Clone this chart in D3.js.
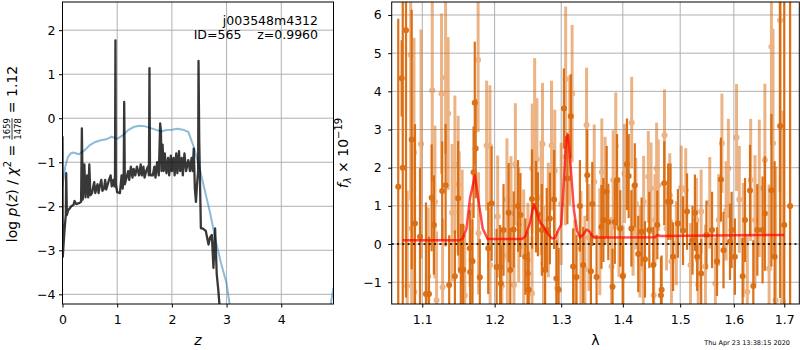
<!DOCTYPE html>
<html>
<head>
<meta charset="utf-8">
<script src="https://cdn.jsdelivr.net/npm/d3@7"></script>
<style>
	body { margin: 0; background: #fff; }
	svg { font-family: "DejaVu Sans", sans-serif; }
</style>
</head>
<body>
<svg id="chart" width="800" height="350"></svg>
<script>
// ---- left panel: log p(z) ----
const pzZ = [0.00, 0.005, 0.02, 0.04, 0.06, 0.068, 0.08, 0.10, 0.13, 0.16, 0.20, 0.22, 0.25, 0.30, 0.34, 0.354, 0.37,
	0.40, 0.42, 0.45, 0.47, 0.49, 0.51, 0.54, 0.58, 0.60, 0.64, 0.66, 0.68, 0.71, 0.73, 0.76, 0.78, 0.80, 0.85, 0.88,
	0.90, 0.93, 0.95, 0.96, 0.968, 0.975, 1.00, 1.05, 1.08, 1.10, 1.12, 1.128, 1.14, 1.17, 1.20, 1.22, 1.25, 1.28,
	1.30, 1.33, 1.36, 1.40, 1.43, 1.45, 1.48, 1.50, 1.53, 1.56, 1.58, 1.59, 1.60, 1.62, 1.65, 1.68, 1.70, 1.73, 1.76,
	1.786, 1.80, 1.81, 1.83, 1.85, 1.87, 1.90, 1.93, 1.95, 1.98, 2.00, 2.03, 2.05, 2.08, 2.10, 2.13, 2.15, 2.18, 2.20,
	2.23, 2.26, 2.30, 2.33, 2.36, 2.38, 2.40, 2.42, 2.44, 2.46, 2.48, 2.487, 2.50, 2.53, 2.56, 2.62, 2.67, 2.70, 2.73,
	2.76, 2.79, 2.82, 2.85, 2.88];
const pzLog = [-0.41, -3.15, -2.85, -2.5, -2.2, -1.25, -2.2, -2.1, -2.05, -2.0, -1.97, -1.88, -1.95, -1.93, -1.9, -0.23, -1.85,
	-1.05, -1.8, -1.3, -1.8, -1.05, -1.75, -1.7, -1.45, -1.7, -1.5, -1.7, -1.55, -1.4, -1.65, -1.6, -1.4, -1.62, -1.4, -1.3,
	-1.55, -1.4, -1.55, -1.3, 1.77, -1.5, -1.68, -1.7, -1.3, -1.6, -1.2, 0.37, -1.5, -1.35, -1.2, -1.4, -1.1, -1.35,
	-1.15, -1.3, -1.1, -1.3, -1.05, -1.3, -1.1, -1.35, -1.2, -1.1, -1.3, 1.14, -1.25, -1.3, -1.3, -1.1, -1.35, -1.0, -1.3,
	-0.12, -0.3, -1.2, -0.6, -1.2, -0.8, -1.25, -0.9, -1.3, -0.85, -1.2, -0.9, -1.3, -0.8, -1.25, -0.75, -1.2, -0.9, -1.3,
	-0.8, -1.2, -0.95, -1.2, -0.9, -1.2, -0.69, -1.6, -1.9, -1.5, -1.2, 1.3, -0.5, -2.5, -2.5, -2.56, -2.87, -2.7, -2.65,
	-3.4, -2.5, -3.54, -3.92, -4.4];
const priorZ = [0.00, 0.05, 0.10, 0.15, 0.20, 0.30, 0.40, 0.50, 0.60, 0.70, 0.80, 0.90, 1.00, 1.10, 1.20, 1.30, 1.40,
	1.50, 1.60, 1.70, 1.80, 1.90, 2.00, 2.10, 2.20, 2.30, 2.40, 2.50, 2.60, 2.70, 2.80, 2.90, 3.00, 3.10, 3.30, 4.85,
	4.90, 4.955];
const priorLog = [-1.56, -1.1, -0.88, -0.8, -0.78, -0.82, -0.73, -0.61, -0.54, -0.5, -0.48, -0.42, -0.47, -0.39, -0.27, -0.2, -0.17,
	-0.18, -0.22, -0.26, -0.3, -0.27, -0.26, -0.24, -0.26, -0.31, -0.65, -1.1, -1.63, -2.16, -2.77, -3.3, -3.75, -4.6, -5.5, -5.0,
	-4.25, -3.85];
const zTicks = [0, 1, 2, 3, 4];
const logpTicks = [-4, -3, -2, -1, 0, 1, 2];

// ---- right panel: spectrum (dark = first spectrum, light = second) ----
const darkWave = [1.0687, 1.0731, 1.0745, 1.0787, 1.0861, 1.0904, 1.0970, 1.1049, 1.1089, 1.1125, 1.1155, 1.1267, 1.1313,
	1.1362, 1.1440, 1.1485, 1.1522, 1.1554, 1.1647, 1.1652, 1.1685, 1.1700, 1.1717, 1.1730, 1.1788, 1.1908, 1.1957,
	1.2029, 1.2079, 1.2090, 1.2129, 1.2204, 1.2228, 1.2278, 1.2343, 1.2378, 1.2452, 1.2487, 1.2502, 1.2552, 1.2612,
	1.2641, 1.2701, 1.2751, 1.2776, 1.2825, 1.2890, 1.2925, 1.2960, 1.3043, 1.3097, 1.3151, 1.3188, 1.3242, 1.3296,
	1.3349, 1.3414, 1.3473, 1.3495, 1.3565, 1.3645, 1.3677, 1.3731, 1.3758, 1.3828, 1.3866, 1.3903, 1.3957, 1.4000,
	1.4070, 1.4099, 1.4145, 1.4203, 1.4262, 1.4320, 1.4378, 1.4453, 1.4523, 1.4593, 1.4657, 1.4669, 1.4715, 1.4785,
	1.4826, 1.4872, 1.4959, 1.5050, 1.5124, 1.5224, 1.5268, 1.5309, 1.5383, 1.5481, 1.5586, 1.5679, 1.5753, 1.5802,
	1.5926, 1.5957, 1.6020, 1.6170, 1.6216, 1.6314, 1.6379, 1.6458, 1.6562, 1.6608, 1.6739, 1.6804, 1.6915, 1.7000,
	1.7120];
const darkFlux = [1.5, 4.34, 2.0, 5.6, 2.74, 0.54, 0.19, -1.31, -1.31, 1.21, 0.5, 1.39, 1.54,
	-1.07, -0.84, 1.2, -0.67, -0.67, -0.11, -0.73, -0.45, 1.88, 3.7, 2.5, -0.87, -0.11, 1.06,
	-0.6, -0.6, -1.03, 0.37, 0.82, -0.68, 0.38, 1.0, 0.76, -0.33, -0.77, -1.2, 1.18, 0.98,
	0.78, 0.37, -0.68, 0.37, 0.67, 1.17, -0.9, -1.2, 3.55, 1.72, 3.35, -0.59, -0.86, 1.0,
	-0.55, 1.8, -0.71, 1.05, -0.86, 0.45, 0.63, 1.37, 0.58, -1.12, 0.58, 1.68, 0.41, -0.84,
	2.09, 1.78, 0.41, 1.54, -0.26, 0.32, -0.4, 0.37, -0.55, 0.5, -1.34, -1.2, 1.59, 1.11,
	1.11, -0.33, 0.54, 0.35, 0.85, 0.1, 0.82, -0.33, -0.77, 0.24, 0.37, -0.46, 1.69, -0.16,
	0.06, 0.37, -0.33, -0.84, 0.63, 1.4, -1.1, 0.37, 0.37, 0.8, 1.41, -0.33, 3.09, 0.5,
	1.0];
const darkErr = [4.4, 1.0, 5.0, 7.0, 3.4, 2.6, 1.8, 2.4, 1.5, 1.4, 1.3, 1.3, 1.6,
	1.3, 1.2, 1.5, 1.2, 1.2, 1.0, 1.1, 1.1, 1.2, 1.6, 1.3, 1.0, 1.2, 1.5,
	1.0, 1.1, 1.0, 1.2, 1.3, 1.1, 1.0, 1.2, 1.1, 1.0, 1.1, 1.0, 1.3, 1.2,
	1.1, 1.2, 1.0, 1.1, 1.2, 1.3, 1.0, 1.1, 1.05, 1.2, 1.1, 1.0, 1.1, 1.2,
	1.0, 1.2, 1.0, 1.1, 1.1, 1.1, 1.1, 1.2, 1.0, 1.0, 1.1, 1.2, 1.0, 1.0,
	1.2, 1.1, 1.0, 1.1, 1.0, 0.9, 1.0, 1.0, 1.0, 0.9, 1.0, 0.9, 1.1, 1.0,
	1.0, 0.9, 0.9, 0.9, 1.0, 0.9, 1.0, 0.9, 0.9, 0.9, 1.0, 0.9, 1.1, 1.0,
	1.0, 1.0, 1.0, 1.0, 1.1, 1.2, 1.2, 1.2, 1.4, 1.5, 2.0, 2.5, 4.5, 8.0,
	8.0];
const lightWave = [1.0803, 1.0848, 1.0861, 1.0891, 1.0895, 1.0983, 1.1080, 1.1133, 1.1169, 1.1191, 1.1258, 1.1272, 1.1313,
	1.1348, 1.1402, 1.1440, 1.1485, 1.1500, 1.1540, 1.1577, 1.1671, 1.1764, 1.1770, 1.1885, 1.1932, 1.1935,
	1.2044, 1.2104, 1.2179, 1.2185, 1.2238, 1.2283, 1.2303, 1.2353, 1.2427, 1.2490, 1.2552, 1.2555, 1.2592, 1.2626,
	1.2691, 1.2711, 1.2726, 1.2800, 1.2850, 1.2900, 1.2940, 1.3000, 1.3065, 1.3070, 1.3134, 1.3172, 1.3215, 1.3312,
	1.3376, 1.3403, 1.3441, 1.3527, 1.3618, 1.3651, 1.3704, 1.3812, 1.3839, 1.3882, 1.3935, 1.4005, 1.4029, 1.4150,
	1.4174, 1.4221, 1.4291, 1.4349, 1.4355, 1.4436, 1.4483, 1.4530, 1.4552, 1.4581, 1.4610, 1.4720, 1.4756, 1.4814,
	1.4843, 1.4930, 1.5019, 1.5100, 1.5187, 1.5296, 1.5330, 1.5383, 1.5463, 1.5543, 1.5648, 1.5710, 1.5772, 1.5852,
	1.5895, 1.6052, 1.6105, 1.6183, 1.6261, 1.6327, 1.6412, 1.6497, 1.6608, 1.6693, 1.6739, 1.6771, 1.6824, 1.6915,
	1.6967];
const lightFlux = [-1.1, 4.95, 0.41, 2.4, -1.25, 2.62, -0.84, 4.03, 1.1, -1.47, 3.94, -1.13, 4.36,
	3.42, 0.82, 2.09, 1.56, 0.83, 0.45, -1.35, -0.42, 4.83, 0.28, 2.58, 2.56, -0.55,
	0.72, -1.1, 1.17, -0.3, 0.8, -1.07, 2.09, 0.51, -0.07, -0.42, -1.29, 1.98, 3.07, 2.22,
	1.21, 2.62, -0.5, 0.63, 2.58, 1.92, -1.16, 1.05, 2.29, 4.32, 2.72, 3.94, -0.86, -0.11,
	-0.66, 3.12, 0.17, 1.63, 0.06, 1.89, 1.41, -0.59, 1.68, 2.57, 0.44, -0.81, 1.85, 3.18,
	0.37, 1.06, -0.2, -0.64, 1.11, 1.76, 1.46, -1.34, 0.63, 1.98, 1.54, 2.85, 0.41, 1.28,
	-0.46, 0.02, 1.48, 1.41, -0.55, 0.63, -1.07, 0.85, -0.59, 1.08, -1.03, 0.63, 2.64, 0.87,
	1.98, 2.79, 1.17, 0.1, -1.25, 1.68, 0.63, 1.46, 2.2, -0.64, 5.17, 2.64, -1.47, 5.86,
	-1.5];
const lightErr = [2.5, 3.8, 2.0, 3.0, 2.0, 3.0, 1.8, 2.4, 2.0, 1.8, 2.1, 1.8, 2.0,
	2.0, 1.8, 1.8, 1.8, 1.6, 1.5, 1.6, 1.5, 1.9, 1.6, 1.7, 1.6, 1.5,
	1.6, 1.5, 1.6, 1.5, 1.5, 1.5, 1.6, 1.5, 1.5, 1.5, 1.5, 1.7, 1.8, 1.6,
	1.5, 1.6, 1.5, 1.5, 1.7, 1.6, 1.5, 1.6, 1.8, 1.9, 1.7, 1.8, 1.5, 1.5,
	1.4, 1.5, 1.4, 1.5, 1.4, 1.4, 1.4, 1.3, 1.3, 1.4, 1.3, 1.3, 1.3, 1.2,
	1.2, 1.2, 1.2, 1.2, 1.2, 1.2, 1.2, 1.2, 1.2, 1.2, 1.2, 1.2, 1.1, 1.1,
	1.1, 1.1, 1.1, 1.1, 1.1, 1.1, 1.1, 1.1, 1.1, 1.2, 1.2, 1.2, 1.3, 1.3,
	1.3, 1.4, 1.4, 1.5, 1.5, 1.6, 1.7, 1.8, 2.0, 2.2, 2.5, 3.0, 3.5, 4.5,
	5.0];
const modelWave = [1.074, 1.150, 1.155, 1.160, 1.165, 1.172, 1.178, 1.183, 1.190, 1.240, 1.245, 1.252, 1.258, 1.263,
	1.268, 1.272, 1.278, 1.285, 1.290, 1.295, 1.300, 1.304, 1.308, 1.311, 1.315, 1.320, 1.325, 1.330, 1.335, 1.340,
	1.345, 1.350, 1.355, 1.455, 1.460, 1.465, 1.700];
const modelFlux = [0.10, 0.10, 0.15, 0.40, 1.20, 1.80, 1.00, 0.40, 0.13, 0.13, 0.20, 0.55, 1.05, 0.80,
	0.55, 0.48, 0.30, 0.15, 0.15, 0.35, 0.50, 1.60, 2.80, 2.85, 2.00, 0.90, 0.35, 0.18, 0.25, 0.38,
	0.33, 0.20, 0.17, 0.18, 0.24, 0.21, 0.24];
const waveTicks = [1.1, 1.2, 1.3, 1.4, 1.5, 1.6, 1.7];
const fluxTicks = [-1, 0, 1, 2, 3, 4, 5, 6];

const orange = "#da6a0c";

let svg = d3.select("#chart");
let axTop = 2, axBottom = 304;

function drawFrame(g, x, y, xTicks, yTicks, xFmt, yPad, id)
{
	let x0 = x.range()[0], x1 = x.range()[1];

	g.append("clipPath").attr("id", id)
		.append("rect")
		.attr("x", x0).attr("y", axTop)
		.attr("width", x1 - x0).attr("height", axBottom - axTop);

	//grid
	g.append("g").selectAll("line").data(xTicks).enter().append("line")
		.attr("x1", d => x(d)).attr("x2", d => x(d))
		.attr("y1", axTop).attr("y2", axBottom)
		.attr("stroke", "#b0b0b0").attr("stroke-width", 1);
	g.append("g").selectAll("line").data(yTicks).enter().append("line")
		.attr("x1", x0).attr("x2", x1)
		.attr("y1", d => y(d)).attr("y2", d => y(d))
		.attr("stroke", "#b0b0b0").attr("stroke-width", 1);

	//axes
	let ax = g.append("g")
		.attr("transform", "translate(0," + axBottom + ")")
		.call(d3.axisBottom(x).tickValues(xTicks).tickFormat(xFmt).tickSize(3.5).tickPadding(8));
	ax.select(".domain").remove();
	ax.selectAll("text").attr("font-size", 12.5).attr("font-family", "DejaVu Sans").attr("fill", "#000");

	let ay = g.append("g")
		.attr("transform", "translate(" + x0 + ",0)")
		.call(d3.axisLeft(y).tickValues(yTicks).tickFormat(d3.format("d")).tickSize(3.5).tickPadding(yPad));
	ay.select(".domain").remove();
	ay.selectAll("text").attr("font-size", 12.5).attr("font-family", "DejaVu Sans").attr("fill", "#000");
}

function drawSpines(g, x)
{
	let x0 = x.range()[0], x1 = x.range()[1];
	g.append("rect")
		.attr("x", x0).attr("y", axTop)
		.attr("width", x1 - x0).attr("height", axBottom - axTop)
		.attr("fill", "none").attr("stroke", "#000").attr("stroke-width", 1);
}

// ---- left panel ----
let pzX = d3.scaleLinear().domain([0, 4.955]).range([62.5, 333.5]);
let pzY = d3.scaleLinear().domain([-4.22, 2.64]).range([axBottom, axTop]);
let left = svg.append("g");
drawFrame(left, pzX, pzY, zTicks, logpTicks, d3.format("d"), 3.5, "clipL");

let pzLine = d3.line().x(d => pzX(d[0])).y(d => pzY(d[1]));
let lines = left.append("g").attr("clip-path", "url(#clipL)");
lines.append("path")
	.datum(priorZ.map((z, i) => [z, priorLog[i]]))
	.attr("d", pzLine)
	.attr("fill", "none").attr("stroke", "#1f77b4").attr("stroke-opacity", 0.5).attr("stroke-width", 2);
lines.append("path")
	.datum(pzZ.map((z, i) => [z, pzLog[i]]))
	.attr("d", pzLine)
	.attr("fill", "none").attr("stroke", "#000").attr("stroke-opacity", 0.78)
	.attr("stroke-width", 2.3).attr("stroke-linejoin", "round");
drawSpines(left, pzX);

left.append("text").attr("x", 318).attr("y", 25).attr("text-anchor", "end").attr("font-size", 12.5)
	.text("j003548m4312");
left.append("text").attr("x", 318).attr("y", 39).attr("text-anchor", "end").attr("font-size", 12.5)
	.attr("xml:space", "preserve").style("white-space", "pre")
	.text("ID=565    z=0.9960");

left.append("text").attr("x", 198).attr("y", 345).attr("text-anchor", "middle")
	.attr("font-size", 14).attr("font-style", "italic").text("z");

// y label with the stacked fraction
let lab = svg.append("g");
let t1 = lab.append("text").attr("x", 0).attr("y", 17).attr("font-size", 14);
t1.append("tspan").text("log ");
t1.append("tspan").attr("font-style", "italic").text("p");
t1.append("tspan").text("(");
t1.append("tspan").attr("font-style", "italic").text("z");
t1.append("tspan").text(") / ");
t1.append("tspan").attr("font-style", "italic").text("χ");
t1.append("tspan").attr("font-size", 10).attr("dy", -6).text("2");
t1.append("tspan").attr("dy", 6).text(" =");
let w1 = t1.node().getComputedTextLength();
let fx = w1 + 5;
let num = lab.append("text").attr("x", fx).attr("y", 10).attr("font-size", 8.5).text("1659");
let nw = num.node().getComputedTextLength();
lab.append("text").attr("x", fx).attr("y", 20.5).attr("font-size", 8.5).text("1478");
lab.append("line").attr("x1", fx).attr("x2", fx + nw).attr("y1", 12).attr("y2", 12)
	.attr("stroke", "#000").attr("stroke-width", 0.8);
let t2 = lab.append("text").attr("x", fx + nw + 5).attr("y", 17).attr("font-size", 14).text("= 1.12");
let total = fx + nw + 5 + t2.node().getComputedTextLength();
lab.attr("transform", "translate(0," + (154 + total / 2) + ") rotate(-90)");

// ---- right panel ----
let wX = d3.scaleLog().domain([1.0603, 1.731]).range([391.7, 799.3]);
let fY = d3.scaleLinear().domain([-1.57, 6.34]).range([axBottom, axTop]);
let right = svg.append("g");
drawFrame(right, wX, fY, waveTicks, fluxTicks, d3.format(".1f"), 6.5, "clipR");

let spec = right.append("g").attr("clip-path", "url(#clipR)");

function drawSpec(waves, flux, errs, opacity, width)
{
	let grp = spec.append("g").attr("opacity", opacity);
	let pts = waves.map((w, i) => ({ w: w, f: flux[i], e: errs[i] }));
	grp.selectAll("line").data(pts).enter().append("line")
		.attr("x1", d => wX(d.w)).attr("x2", d => wX(d.w))
		.attr("y1", d => fY(d.f - d.e)).attr("y2", d => fY(d.f + d.e))
		.attr("stroke", orange).attr("stroke-width", width);
	grp.selectAll("circle").data(pts).enter().append("circle")
		.attr("cx", d => wX(d.w)).attr("cy", d => fY(d.f))
		.attr("r", 3).attr("fill", orange);
}
drawSpec(lightWave, lightFlux, lightErr, 0.5, 3);
drawSpec(darkWave, darkFlux, darkErr, 0.95, 2.2);

spec.append("line")
	.attr("x1", wX.range()[0]).attr("x2", wX.range()[1])
	.attr("y1", fY(0)).attr("y2", fY(0))
	.attr("stroke", "#000").attr("stroke-width", 2).attr("stroke-dasharray", "2,3.3").attr("stroke-opacity", 0.8);

spec.append("path")
	.datum(modelWave.map((w, i) => [w, modelFlux[i]]))
	.attr("d", d3.line().x(d => wX(d[0])).y(d => fY(d[1])))
	.attr("fill", "none").attr("stroke", "red").attr("stroke-opacity", 0.7)
	.attr("stroke-width", 2.5).attr("stroke-linejoin", "round");
drawSpines(right, wX);

right.append("text").attr("x", 595.5).attr("y", 345).attr("text-anchor", "middle")
	.attr("font-size", 14).text("λ");

let fl = right.append("text").attr("transform", "translate(348,153) rotate(-90)")
	.attr("text-anchor", "middle").attr("font-size", 14);
fl.append("tspan").attr("font-style", "italic").text("f");
fl.append("tspan").attr("font-size", 10).attr("font-style", "italic").attr("dy", 3).text("λ");
fl.append("tspan").attr("dy", -3).text(" × 10");
fl.append("tspan").attr("font-size", 10).attr("dy", -6).text("−19");

svg.append("text").attr("x", 790).attr("y", 345).attr("text-anchor", "end")
	.attr("font-size", 6.5).text("Thu Apr 23 13:38:15 2020");
</script>
</body>
</html>
